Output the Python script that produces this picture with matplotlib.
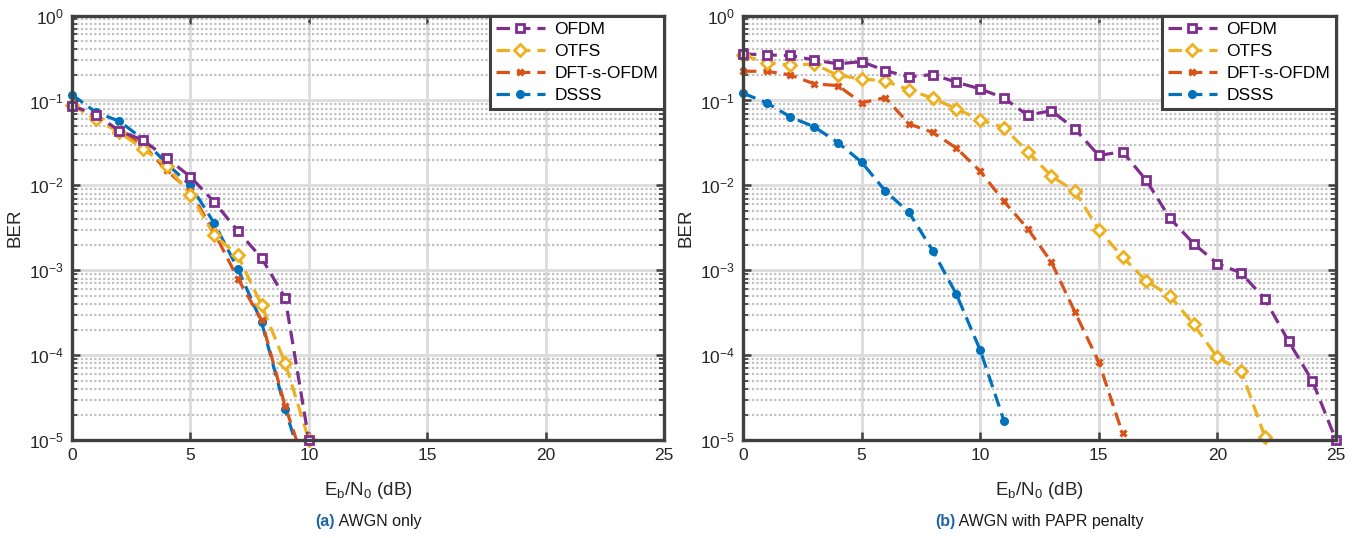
import numpy as np
import matplotlib
matplotlib.use("Agg")
import matplotlib.pyplot as plt
from matplotlib.lines import Line2D
from matplotlib.offsetbox import TextArea, HPacker, AnnotationBbox
from matplotlib.ticker import LogLocator, NullFormatter

plt.rcParams["font.family"] = ["Liberation Sans", "DejaVu Sans"]
plt.rcParams["mathtext.fontset"] = "custom"
plt.rcParams["mathtext.rm"] = "Liberation Sans"

# ---------------------------------------------------------------------------
# Data
# ---------------------------------------------------------------------------
snr_a = [0, 1, 2, 3, 4, 5, 6, 7, 8, 9, 10]
ofdm_a = [0.087, 0.068, 0.044, 0.034, 0.021, 0.0126, 0.0064, 0.0029, 0.0014, 0.00047, 1.0e-5]
otfs_a = [0.088, 0.060, 0.042, 0.027, 0.017, 0.0078, 0.0026, 0.0015, 0.00039, 8.1e-5, 1.0e-5]
dft_a = [0.089, 0.064, 0.043, 0.030, 0.015, 0.0085, 0.0028, 0.0008, 0.00026, 2.5e-5, 3.7e-6]
dsss_a = [0.117, 0.073, 0.057, 0.035, 0.018, 0.0100, 0.0036, 0.00104, 0.000246, 2.3e-5, 3.0e-6]

snr_b = list(range(26))
ofdm_b = [0.354, 0.344, 0.339, 0.30, 0.27, 0.287, 0.225, 0.19, 0.202, 0.164, 0.137,
          0.107, 0.067, 0.076, 0.046, 0.0225, 0.025, 0.0115, 0.0041, 0.00206, 0.0012,
          0.00093, 0.00046, 0.000146, 5.0e-5, 1.0e-5]
otfs_b = [0.34, 0.28, 0.26, 0.27, 0.197, 0.18, 0.169, 0.134, 0.106, 0.080, 0.059,
          0.048, 0.025, 0.0129, 0.0085, 0.0030, 0.00144, 0.00075, 0.0005, 0.00023,
          9.4e-5, 6.6e-5, 1.1e-5]
dft_b = [0.221, 0.221, 0.20, 0.157, 0.15, 0.094, 0.108, 0.053, 0.042, 0.0275, 0.0147,
         0.0065, 0.0031, 0.00125, 0.00032, 8.3e-5, 1.2e-5]
dsss_b = [0.122, 0.094, 0.064, 0.049, 0.032, 0.0188, 0.0086, 0.0048, 0.0017, 0.00052,
          0.000115, 1.7e-5]

labels = ["OFDM", "OTFS", "DFT-s-OFDM", "DSSS"]
captions = [("(a)", " AWGN only"), ("(b)", " AWGN with PAPR penalty")]

# ---------------------------------------------------------------------------
# Style
# ---------------------------------------------------------------------------
STYLE = {
    "OFDM":       dict(color="#7E2F8E", marker="s", ms=6.0, mfc="white", mew=2.0),
    "OTFS":       dict(color="#EDB120", marker="D", ms=5.8, mfc="white", mew=2.0),
    "DFT-s-OFDM": dict(color="#D95319", marker="x", ms=4.6, mfc="#D95319", mew=2.3),
    "DSSS":       dict(color="#0072BD", marker="o", ms=5.5, mfc="#0072BD", mew=1.0),
}
DASH = (0, (4.2, 2.2))
LW = 2.3
YMIN, YMAX = 1e-5, 1.0
SPINE = "#404040"


def draw_series(ax, x, y, name):
    st = STYLE[name]
    x = np.asarray(x, float)
    y = np.asarray(y, float)
    ax.plot(x, y, ls=DASH, lw=LW, color=st["color"], zorder=3)
    keep = y >= YMIN * 0.999
    ax.plot(x[keep], y[keep], ls="none", marker=st["marker"], ms=st["ms"],
            mfc=st["mfc"], mec=st["color"], mew=st["mew"], clip_on=False, zorder=4)


def style_axes(ax):
    ax.set_yscale("log")
    ax.set_xlim(0, 25)
    ax.set_ylim(YMIN, YMAX)
    ax.set_xticks([0, 5, 10, 15, 20, 25])
    ax.yaxis.set_major_locator(LogLocator(base=10, numticks=10))
    ax.yaxis.set_minor_locator(LogLocator(base=10, subs=np.arange(2, 10), numticks=20))
    ax.yaxis.set_minor_formatter(NullFormatter())
    ax.grid(True, which="major", color="#dcdcdc", lw=2.0, ls="-", zorder=0)
    ax.grid(True, which="minor", axis="y", color="#c0c0c0", lw=1.6, ls=(0, (1, 1.0)), zorder=0)
    ax.set_axisbelow(True)
    for sp in ax.spines.values():
        sp.set_color(SPINE)
        sp.set_linewidth(2.4)
        sp.set_zorder(5)
    ax.tick_params(which="both", direction="in", top=True, right=True,
                   colors=SPINE, labelcolor="#262626", labelsize=12.5)
    ax.tick_params(which="major", length=6, width=1.8, pad=6)
    ax.tick_params(which="minor", length=3.5, width=1.3)
    ax.set_xlabel(r"E$_\mathregular{b}$/N$_\mathregular{0}$ (dB)", fontsize=13.5,
                  color="#262626", labelpad=12)
    ax.set_ylabel("BER", fontsize=13.5, color="#262626", labelpad=4)


def add_legend(ax):
    handles = []
    for name in labels:
        st = STYLE[name]
        handles.append(Line2D([], [], ls=DASH, lw=LW, color=st["color"], marker=st["marker"],
                              ms=st["ms"], mfc=st["mfc"], mec=st["color"], mew=st["mew"]))
    leg = ax.legend(handles, labels, loc="upper right", borderaxespad=0, fontsize=12.5,
                    handlelength=2.8, handletextpad=0.55, labelspacing=0.4,
                    borderpad=0.35, fancybox=False, framealpha=1)
    leg.get_frame().set_edgecolor(SPINE)
    leg.get_frame().set_linewidth(2.2)
    leg.set_zorder(6)


# ---------------------------------------------------------------------------
# Figure
# ---------------------------------------------------------------------------
fig = plt.figure(figsize=(13.62, 5.38), dpi=100)
ax_a = fig.add_axes([0.0529, 0.182, 0.4347, 0.789])
ax_b = fig.add_axes([0.5455, 0.182, 0.4354, 0.789])

panels = [
    (ax_a, snr_a, [ofdm_a, otfs_a, dft_a, dsss_a]),
    (ax_b, snr_b, [ofdm_b, otfs_b, dft_b, dsss_b]),
]

for (ax, snr, series), (tag, text) in zip(panels, captions):
    style_axes(ax)
    # later series on top: draw DSSS first, OFDM last
    for name, vals in reversed(list(zip(labels, series))):
        draw_series(ax, snr[:len(vals)], vals, name)
    add_legend(ax)

    box = HPacker(children=[
        TextArea(tag, textprops=dict(color="#1F64A8", fontweight="bold", fontsize=11.5)),
        TextArea(text, textprops=dict(color="#1a1a1a", fontsize=11.5)),
    ], align="baseline", pad=0, sep=0)
    pos = ax.get_position()
    ab = AnnotationBbox(box, ((pos.x0 + pos.x1) / 2, 0.030), xycoords="figure fraction",
                        frameon=False, box_alignment=(0.5, 0.5))
    fig.add_artist(ab)

fig.savefig("out.png", dpi=100)
